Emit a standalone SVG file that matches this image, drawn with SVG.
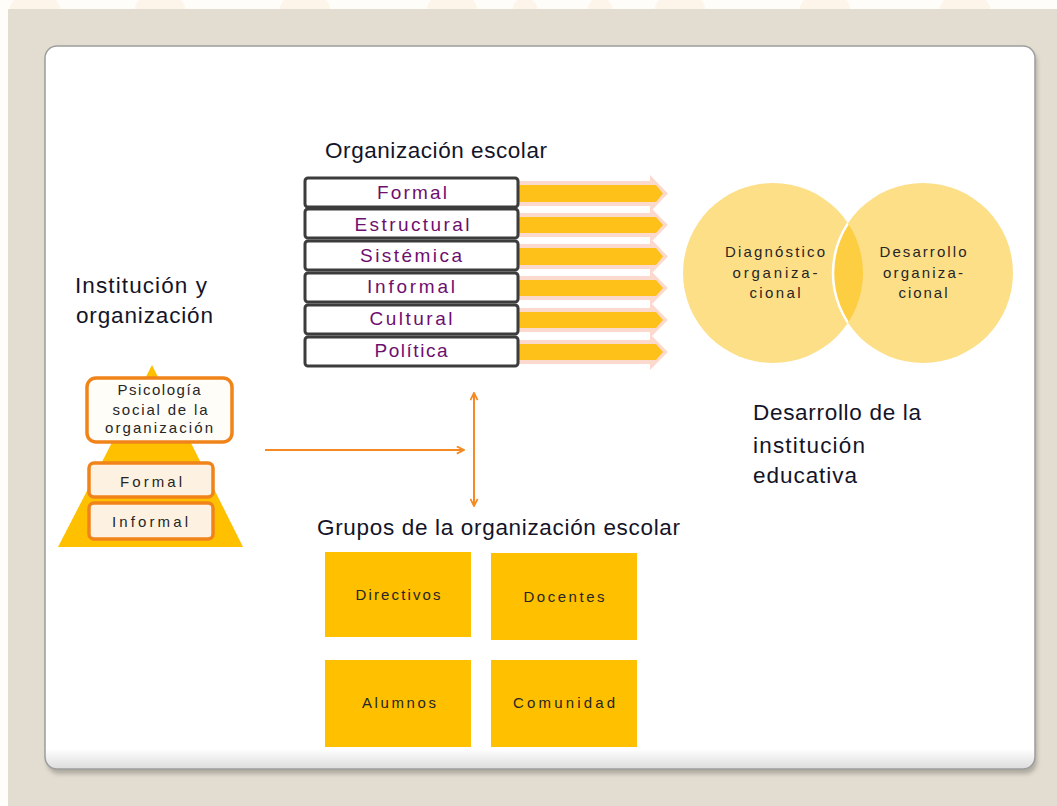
<svg xmlns="http://www.w3.org/2000/svg" width="1057" height="806" viewBox="0 0 1057 806">
<style>
.ttl{font-family:"Liberation Sans",Arial,sans-serif;font-size:22.5px;fill:#141428}
.row{font-family:"Liberation Sans",Arial,sans-serif;font-size:19px;fill:#6e0f6e;text-anchor:middle}
.sm{font-family:"Liberation Sans",Arial,sans-serif;font-size:15px;fill:#262626;text-anchor:middle}
.rowbox{fill:#fff;stroke:#3c3c3c;stroke-width:3}
.glow{fill:#fbd9cc}
.arr{fill:#fdc11a}
.circ{fill:#fddf88}
.obox{stroke:#f0841a;stroke-width:3.5}
.grp{fill:#ffc000}
.con{stroke:#f58a25;stroke-width:2;fill:none}
</style>
<defs>
<linearGradient id="pg" x1="0" y1="0" x2="0" y2="1">
<stop offset="0.972" stop-color="#ffffff"/>
<stop offset="1" stop-color="#dcdcdc"/>
</linearGradient>
<filter id="sh" x="-5%" y="-5%" width="110%" height="110%"><feGaussianBlur stdDeviation="2"/></filter>
<marker id="ah" viewBox="0 0 10 10" refX="9" refY="5" markerWidth="9" markerHeight="9" markerUnits="userSpaceOnUse" orient="auto-start-reverse">
<path d="M1,1 L9,5 L1,9" fill="none" stroke="#f58a25" stroke-width="2"/>
</marker>
<clipPath id="lc"><circle cx="773" cy="273" r="90"/></clipPath>
</defs>

<!-- background -->
<rect width="1057" height="806" fill="#fffdf9"/>
<g fill="#fdf5ea">
<ellipse cx="35" cy="8" rx="25" ry="14"/><ellipse cx="160" cy="8" rx="25" ry="14"/><ellipse cx="305" cy="8" rx="25" ry="14"/>
<ellipse cx="452" cy="8" rx="25" ry="14"/><ellipse cx="525" cy="8" rx="12" ry="10"/><ellipse cx="600" cy="8" rx="12" ry="10"/>
<ellipse cx="680" cy="8" rx="25" ry="14"/><ellipse cx="825" cy="8" rx="25" ry="14"/><ellipse cx="965" cy="8" rx="25" ry="14"/>
</g>
<rect x="8" y="9" width="1049" height="797" fill="#e3ddd1"/>

<!-- panel -->
<rect x="47" y="50" width="990" height="724" rx="12" fill="#8f8a82" opacity="0.6" filter="url(#sh)"/>
<rect x="45" y="46" width="990" height="723" rx="12" fill="url(#pg)" stroke="#9d9d9d" stroke-width="1.5"/>

<!-- titles -->
<text id="t-org" class="ttl" x="325" y="158" textLength="222">Organización escolar</text>
<g id="t-inst" class="ttl">
<text x="75" y="293" textLength="132">Institución y</text>
<text x="76" y="323" textLength="137">organización</text>
</g>
<g id="t-des" class="ttl">
<text x="753" y="420" textLength="168">Desarrollo de la</text>
<text x="753" y="453" textLength="112">institución</text>
<text x="753" y="483" textLength="104">educativa</text>
</g>
<text id="t-grp" class="ttl" x="317" y="535" textLength="363">Grupos de la organización escolar</text>

<!-- organización escolar rows -->
<g id="row-formal">
<polygon class="glow" points="518,181 650,181 650,175 668,193.5 650,212 650,206 518,206"/>
<polygon class="arr" points="518,185 656,185 663,193.5 656,202 518,202"/>
<rect class="rowbox" x="305" y="178" width="213" height="29" rx="3"/>
<text class="row" x="412" y="199" textLength="70">Formal</text>
</g>
<g id="row-estructural">
<polygon class="glow" points="518,213 650,213 650,207 668,225 650,243 650,237 518,237"/>
<polygon class="arr" points="518,217 656,217 663,225 656,233 518,233"/>
<rect class="rowbox" x="305" y="209" width="213" height="29" rx="3"/>
<text class="row" x="412" y="231" textLength="115">Estructural</text>
</g>
<g id="row-sistemica">
<polygon class="glow" points="518,244 650,244 650,238 668,256.5 650,275 650,269 518,269"/>
<polygon class="arr" points="518,248 656,248 663,256.5 656,265 518,265"/>
<rect class="rowbox" x="305" y="241" width="213" height="29" rx="3"/>
<text class="row" x="411" y="262" textLength="102">Sistémica</text>
</g>
<g id="row-informal">
<polygon class="glow" points="518,276 650,276 650,270 668,288 650,306 650,300 518,300"/>
<polygon class="arr" points="518,280 656,280 663,288 656,296 518,296"/>
<rect class="rowbox" x="305" y="273" width="213" height="29" rx="3"/>
<text class="row" x="411" y="293" textLength="88">Informal</text>
</g>
<g id="row-cultural">
<polygon class="glow" points="518,308 650,308 650,302 668,320 650,338 650,332 518,332"/>
<polygon class="arr" points="518,312 656,312 663,320 656,328 518,328"/>
<rect class="rowbox" x="305" y="305" width="213" height="29" rx="3"/>
<text class="row" x="411" y="325" textLength="83">Cultural</text>
</g>
<g id="row-politica">
<polygon class="glow" points="518,340 650,340 650,334 668,352 650,370 650,364 518,364"/>
<polygon class="arr" points="518,344 656,344 663,352 656,360 518,360"/>
<rect class="rowbox" x="305" y="337" width="213" height="29" rx="3"/>
<text class="row" x="411" y="357" textLength="73">Política</text>
</g>

<!-- circles -->
<g id="circle-diag">
<circle class="circ" cx="773" cy="273" r="90"/>
<g class="sm">
<text x="775" y="257" textLength="100">Diagnóstico</text>
<text x="775" y="278" textLength="85">organiza-</text>
<text x="775" y="298" textLength="51">cional</text>
</g>
</g>
<g id="circle-desa">
<circle class="circ" cx="923" cy="273" r="90"/>
<circle cx="923" cy="273" r="90" fill="#fdcd42" clip-path="url(#lc)"/>
<circle cx="923" cy="273" r="90" fill="none" stroke="#ffffff" stroke-width="2.5" clip-path="url(#lc)"/>
<g class="sm">
<text x="923" y="257" textLength="87">Desarrollo</text>
<text x="923" y="278" textLength="80">organiza-</text>
<text x="923" y="298" textLength="49">cional</text>
</g>
</g>

<!-- pyramid -->
<g id="pyramid">
<polygon points="152,365 243,547 58,547" fill="#ffc000"/>
</g>
<g id="box-psico">
<rect class="obox" x="87" y="378" width="145" height="64" rx="9" fill="#fffdf8"/>
<g class="sm">
<text x="159" y="395" textLength="83">Psicología</text>
<text x="160" y="415" textLength="95">social de la</text>
<text x="159" y="433" textLength="108">organización</text>
</g>
</g>
<g id="box-formal">
<rect class="obox" x="89" y="463" width="124" height="34" rx="5" fill="#fdf2e2"/>
<text class="sm" x="151" y="487" textLength="62">Formal</text>
</g>
<g id="box-informal">
<rect class="obox" x="89" y="503" width="124" height="36" rx="5" fill="#fdf2e2"/>
<text class="sm" x="150" y="527" textLength="76">Informal</text>
</g>

<!-- grupos -->
<g id="g-directivos">
<rect class="grp" x="325" y="552" width="146" height="85"/>
<text class="sm" x="398" y="600" textLength="85">Directivos</text>
</g>
<g id="g-docentes">
<rect class="grp" x="491" y="553" width="146" height="87"/>
<text class="sm" x="564" y="602" textLength="81">Docentes</text>
</g>
<g id="g-alumnos">
<rect class="grp" x="325" y="660" width="146" height="87"/>
<text class="sm" x="399" y="708" textLength="74">Alumnos</text>
</g>
<g id="g-comunidad">
<rect class="grp" x="491" y="660" width="146" height="87"/>
<text class="sm" x="564" y="708" textLength="102">Comunidad</text>
</g>

<!-- connectors -->
<g id="connectors">
<line class="con" x1="265" y1="450" x2="464" y2="450" marker-end="url(#ah)"/>
<line class="con" x1="474" y1="393" x2="474" y2="506" marker-start="url(#ah)" marker-end="url(#ah)"/>
</g>
</svg>
